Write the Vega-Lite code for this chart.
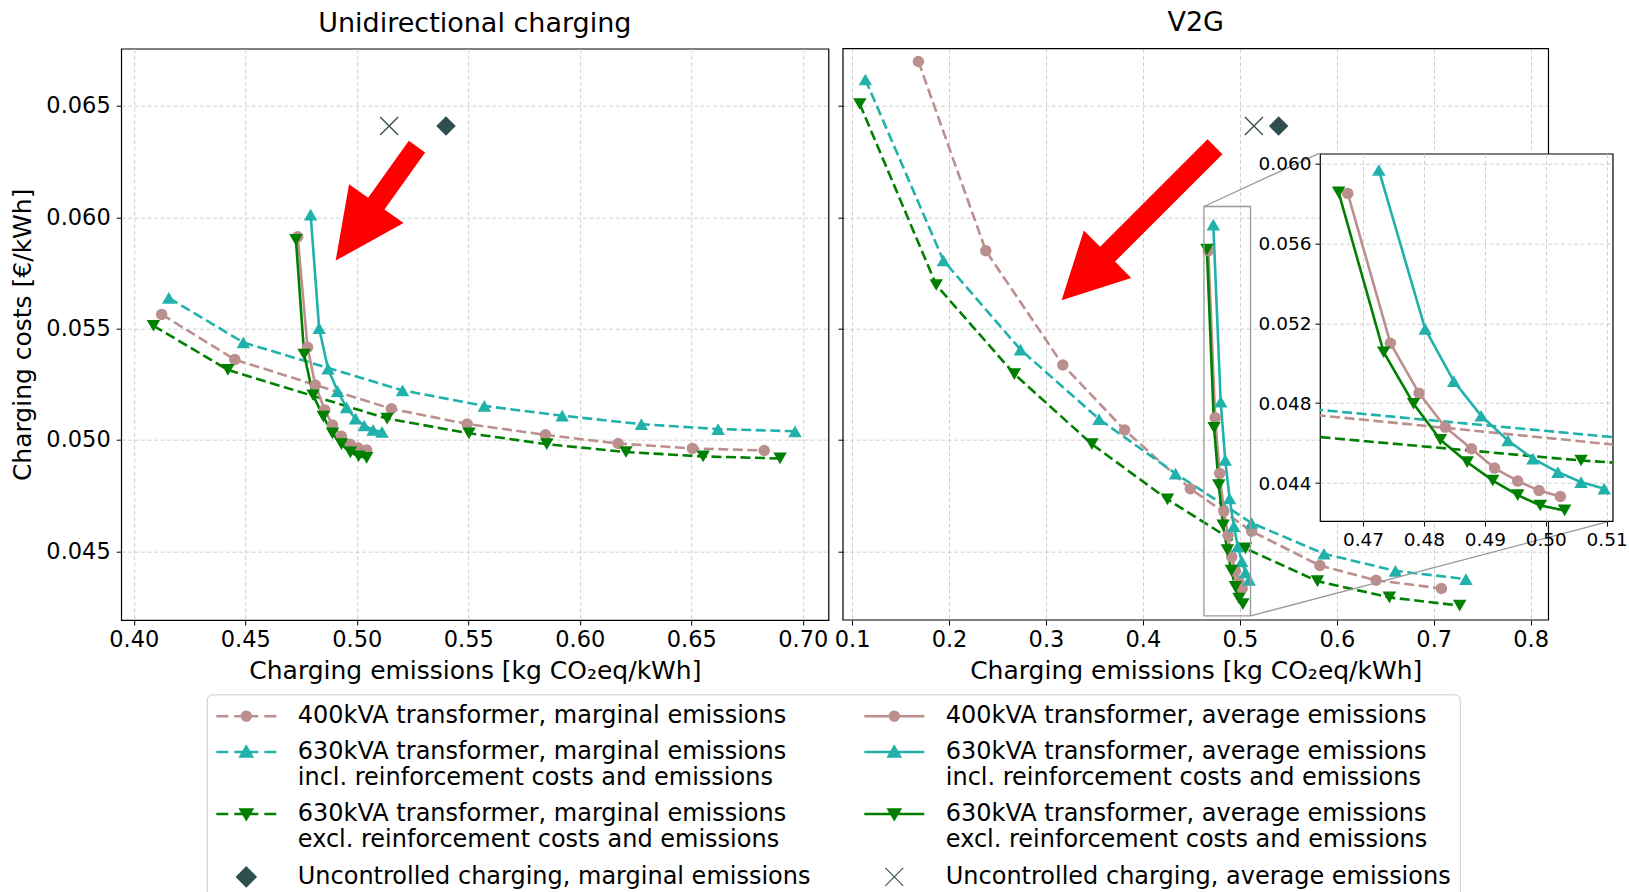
{
  "$schema": "https://vega.github.io/schema/vega-lite/v6.json",
  "padding": {"left": 9.2, "top": 8.7, "right": 5, "bottom": 0},
  "background": "white",
  "config": {
    "font": "DejaVu Sans",
    "view": {"stroke": "black", "strokeWidth": 1.2},
    "point": {"opacity": 1},
    "axis": {
      "labelFont": "DejaVu Sans", "labelFontSize": 22.5, "labelColor": "black",
      "titleFont": "DejaVu Sans", "titleFontSize": 25, "titleFontWeight": "normal", "titleColor": "black",
      "tickColor": "black", "tickSize": 5, "tickWidth": 1, "domain": false,
      "gridColor": "#d0d0d0", "gridDash": [4, 2.5], "gridWidth": 1,
      "labelFlush": false, "labelOverlap": false, "labelPadding": 5
    },
    "title": {"font": "DejaVu Sans", "fontSize": 27, "fontWeight": "normal", "color": "black", "frame": "group", "baseline": "bottom", "offset": 11}
  },
  "datasets": {
    "curves": [
      {"p":"u","s":"m400","x":0.4125,"y":0.05564},{"p":"u","s":"m400","x":0.4453,"y":0.05361},{"p":"u","s":"m400","x":0.5155,"y":0.05140},{"p":"u","s":"m400","x":0.5495,"y":0.05072},{"p":"u","s":"m400","x":0.5846,"y":0.05023},{"p":"u","s":"m400","x":0.6172,"y":0.04984},{"p":"u","s":"m400","x":0.6505,"y":0.04962},{"p":"u","s":"m400","x":0.6827,"y":0.04953},
      {"p":"u","s":"m630i","x":0.4157,"y":0.05638},{"p":"u","s":"m630i","x":0.4491,"y":0.05438},{"p":"u","s":"m630i","x":0.5205,"y":0.05223},{"p":"u","s":"m630i","x":0.5572,"y":0.05153},{"p":"u","s":"m630i","x":0.5921,"y":0.05109},{"p":"u","s":"m630i","x":0.6276,"y":0.05071},{"p":"u","s":"m630i","x":0.6620,"y":0.05049},{"p":"u","s":"m630i","x":0.6965,"y":0.05039},
      {"p":"u","s":"m630e","x":0.4088,"y":0.05513},{"p":"u","s":"m630e","x":0.4422,"y":0.05315},{"p":"u","s":"m630e","x":0.5136,"y":0.05096},{"p":"u","s":"m630e","x":0.5503,"y":0.05030},{"p":"u","s":"m630e","x":0.5852,"y":0.04981},{"p":"u","s":"m630e","x":0.6207,"y":0.04946},{"p":"u","s":"m630e","x":0.6553,"y":0.04926},{"p":"u","s":"m630e","x":0.6898,"y":0.04917},
      {"p":"u","s":"a400","x":0.4735,"y":0.05913},{"p":"u","s":"a400","x":0.4779,"y":0.05416},{"p":"u","s":"a400","x":0.4814,"y":0.05247},{"p":"u","s":"a400","x":0.4856,"y":0.05135},{"p":"u","s":"a400","x":0.4891,"y":0.05067},{"p":"u","s":"a400","x":0.4931,"y":0.05017},{"p":"u","s":"a400","x":0.4971,"y":0.04981},{"p":"u","s":"a400","x":0.5006,"y":0.04964},{"p":"u","s":"a400","x":0.5044,"y":0.04955},
      {"p":"u","s":"a630i","x":0.4793,"y":0.06012},{"p":"u","s":"a630i","x":0.4831,"y":0.05502},{"p":"u","s":"a630i","x":0.4871,"y":0.05320},{"p":"u","s":"a630i","x":0.4914,"y":0.05219},{"p":"u","s":"a630i","x":0.4954,"y":0.05146},{"p":"u","s":"a630i","x":0.4994,"y":0.05096},{"p":"u","s":"a630i","x":0.5033,"y":0.05065},{"p":"u","s":"a630i","x":0.5073,"y":0.05045},{"p":"u","s":"a630i","x":0.5113,"y":0.05036},
      {"p":"u","s":"a630e","x":0.4727,"y":0.05899},{"p":"u","s":"a630e","x":0.4764,"y":0.05384},{"p":"u","s":"a630e","x":0.4804,"y":0.05201},{"p":"u","s":"a630e","x":0.4850,"y":0.05105},{"p":"u","s":"a630e","x":0.4891,"y":0.05030},{"p":"u","s":"a630e","x":0.4931,"y":0.04981},{"p":"u","s":"a630e","x":0.4971,"y":0.04944},{"p":"u","s":"a630e","x":0.5008,"y":0.04927},{"p":"u","s":"a630e","x":0.5044,"y":0.04920},
      {"p":"v","s":"m400","x":0.1684,"y":0.06700},{"p":"v","s":"m400","x":0.2379,"y":0.05850},{"p":"v","s":"m400","x":0.3174,"y":0.05337},{"p":"v","s":"m400","x":0.3811,"y":0.05045},{"p":"v","s":"m400","x":0.4489,"y":0.04781},{"p":"v","s":"m400","x":0.5121,"y":0.04590},{"p":"v","s":"m400","x":0.5826,"y":0.04436},{"p":"v","s":"m400","x":0.6405,"y":0.04370},{"p":"v","s":"m400","x":0.7079,"y":0.04333},
      {"p":"v","s":"m630i","x":0.1137,"y":0.06619},{"p":"v","s":"m630i","x":0.1942,"y":0.05806},{"p":"v","s":"m630i","x":0.2737,"y":0.05406},{"p":"v","s":"m630i","x":0.3547,"y":0.05094},{"p":"v","s":"m630i","x":0.4337,"y":0.04849},{"p":"v","s":"m630i","x":0.5121,"y":0.04627},{"p":"v","s":"m630i","x":0.5868,"y":0.04489},{"p":"v","s":"m630i","x":0.6605,"y":0.04412},{"p":"v","s":"m630i","x":0.7332,"y":0.04375},
      {"p":"v","s":"m630e","x":0.1079,"y":0.06509},{"p":"v","s":"m630e","x":0.1868,"y":0.05696},{"p":"v","s":"m630e","x":0.2674,"y":0.05296},{"p":"v","s":"m630e","x":0.3474,"y":0.04981},{"p":"v","s":"m630e","x":0.4253,"y":0.04733},{"p":"v","s":"m630e","x":0.5058,"y":0.04513},{"p":"v","s":"m630e","x":0.5800,"y":0.04366},{"p":"v","s":"m630e","x":0.6542,"y":0.04293},{"p":"v","s":"m630e","x":0.7268,"y":0.04256},
      {"p":"v","s":"a400","x":0.4675,"y":0.0585},{"p":"v","s":"a400","x":0.4745,"y":0.0510},{"p":"v","s":"a400","x":0.4792,"y":0.0485},{"p":"v","s":"a400","x":0.4835,"y":0.0468},{"p":"v","s":"a400","x":0.4878,"y":0.04572},{"p":"v","s":"a400","x":0.4916,"y":0.04475},{"p":"v","s":"a400","x":0.4954,"y":0.0441},{"p":"v","s":"a400","x":0.4989,"y":0.04363},{"p":"v","s":"a400","x":0.5024,"y":0.04333},
      {"p":"v","s":"a630i","x":0.4726,"y":0.05967},{"p":"v","s":"a630i","x":0.4802,"y":0.05172},{"p":"v","s":"a630i","x":0.4849,"y":0.0491},{"p":"v","s":"a630i","x":0.4894,"y":0.04737},{"p":"v","s":"a630i","x":0.4938,"y":0.04613},{"p":"v","s":"a630i","x":0.4979,"y":0.04522},{"p":"v","s":"a630i","x":0.5020,"y":0.04455},{"p":"v","s":"a630i","x":0.5058,"y":0.04405},{"p":"v","s":"a630i","x":0.5096,"y":0.04372},
      {"p":"v","s":"a630e","x":0.4660,"y":0.05855},{"p":"v","s":"a630e","x":0.4734,"y":0.05055},{"p":"v","s":"a630e","x":0.4783,"y":0.04797},{"p":"v","s":"a630e","x":0.4827,"y":0.04617},{"p":"v","s":"a630e","x":0.4871,"y":0.04505},{"p":"v","s":"a630e","x":0.4913,"y":0.04413},{"p":"v","s":"a630e","x":0.4954,"y":0.0434},{"p":"v","s":"a630e","x":0.4991,"y":0.04288},{"p":"v","s":"a630e","x":0.5031,"y":0.04263}
    ],
    "unc": [
      {"kind": "marginal", "x": 0.540, "y": 0.0641},
      {"kind": "average", "x": 0.5145, "y": 0.0641}
    ],
    "arrows": [
      {"p": "u", "x": 0.50875, "y": 0.060615},
      {"p": "v", "x": 0.39525, "y": 0.059725}
    ],
    "frame": [
      {"x": 0.09061, "x2": 0.81836, "y": 0.041915, "y2": 0.067573}
    ],
    "zoombox": [
      {"x": 0.46294, "x2": 0.51099, "y": 0.042098, "y2": 0.060486}
    ],
    "conn": [
      {"x": 0.46294, "y": 0.060486, "x2": 0.58184, "y2": 0.062875},
      {"x": 0.51099, "y": 0.042098, "x2": 0.88378, "y2": 0.046376}
    ],
    "keys": [
      {"k": "m400"}
    ]
  },
  "spacing": 13.8,
  "bounds": "flush",
  "hconcat": [
    {
      "title": "Unidirectional charging",
      "width": 707.3,
      "height": 571.3,
      "encoding": {
        "x": {"field": "x", "type": "quantitative", "scale": {"domain": [0.39435, 0.71152], "nice": false, "zero": false},
              "axis": {"values": [0.4, 0.45, 0.5, 0.55, 0.6, 0.65, 0.7], "format": ".2f", "title": "Charging emissions [kg CO₂eq/kWh]", "titlePadding": 7.5, "labelPadding": 4}},
        "y": {"field": "y", "type": "quantitative", "scale": {"domain": [0.041915, 0.067573], "nice": false, "zero": false},
              "axis": {"values": [0.045, 0.05, 0.055, 0.06, 0.065], "format": ".3f", "title": "Charging costs [€/kWh]", "titlePadding": 10, "labelPadding": 6}}
      },
      "layer": [
        {"data": {"name": "curves"}, "transform": [{"filter": "datum.p=='u'"}],
         "mark": {"type": "line", "strokeWidth": 2.6},
         "encoding": {
           "color": {"field": "s", "type": "nominal", "scale": {"domain": ["m400","a400","m630i","a630i","m630e","a630e"], "range": ["#BC8F8F","#BC8F8F","#20B2AA","#20B2AA","#008000","#008000"]}, "legend": null},
           "strokeDash": {"field": "s", "type": "nominal", "scale": {"domain": ["m400","a400","m630i","a630i","m630e","a630e"], "range": [[10,4.5],[1,0],[10,4.5],[1,0],[10,4.5],[1,0]]}, "legend": null}
         }},
        {"data": {"name": "curves"}, "transform": [{"filter": "datum.p=='u' && (datum.s=='m400' || datum.s=='a400')"}],
         "mark": {"type": "point", "shape": "circle", "filled": true, "size": 132, "opacity": 1},
         "encoding": {"color": {"field": "s", "type": "nominal", "legend": null}}},
        {"data": {"name": "curves"}, "transform": [{"filter": "datum.p=='u' && (datum.s=='m630i' || datum.s=='a630i')"}],
         "mark": {"type": "point", "shape": "triangle-up", "filled": true, "size": 182, "opacity": 1},
         "encoding": {"color": {"field": "s", "type": "nominal", "legend": null}}},
        {"data": {"name": "curves"}, "transform": [{"filter": "datum.p=='u' && (datum.s=='m630e' || datum.s=='a630e')"}],
         "mark": {"type": "point", "shape": "triangle-down", "filled": true, "size": 182, "opacity": 1},
         "encoding": {"color": {"field": "s", "type": "nominal", "legend": null}}},
        {"data": {"name": "unc"}, "transform": [{"filter": "datum.kind=='marginal'"}],
         "mark": {"type": "point", "shape": "diamond", "filled": true, "size": 380, "color": "#2F4F4F", "opacity": 1}},
        {"data": {"name": "unc"}, "transform": [{"filter": "datum.kind=='average'"}],
         "mark": {"type": "point", "shape": "M-1,-1L1,1M-1,1L1,-1", "filled": false, "size": 324, "color": "#2F4F4F", "strokeWidth": 1.3, "opacity": 1}},
        {"data": {"name": "arrows"}, "transform": [{"filter": "datum.p=='u'"}],
         "mark": {"type": "point", "shape": "M-7,-1L0,-1L0,-3.35L7,0L0,3.35L0,1L-7,1Z", "filled": true, "size": 400, "color": "#FF0000", "angle": 125.5, "strokeWidth": 0, "opacity": 1}},
        {"data": {"name": "keys"}, "transform": [{"filter": "false"}],
         "mark": {"type": "point", "size": 576, "opacity": 1},
         "encoding": {
           "fill": {"field": "k", "type": "nominal",
             "scale": {"domain": ["m400","m630i","m630e","mUnc","a400","a630i","a630e","aUnc"],
                       "range": ["#BC8F8F","#20B2AA","#008000","#2F4F4F","#BC8F8F","#20B2AA","#008000","#2F4F4F"]},
             "legend": {"orient": "none", "legendX": 85.6, "legendY": 645.7, "columns": 2, "title": null,
               "symbolSize": 576, "symbolStrokeWidth": 2.5, "labelFont": "DejaVu Sans", "labelFontSize": 24, "labelColor": "black",
               "labelLimit": 1000, "labelOffset": 56, "columnPadding": 48, "rowPadding": 10, "padding": 8,
               "strokeColor": "#cccccc", "fillColor": "white", "cornerRadius": 5,
               "encode": {"labels": {"update": {"lineHeight": {"value": 26}, "dy": {"signal": "indexof(['m630i','a630i','m630e','a630e'], datum.value) >= 0 ? -13 : 0"}}}},
               "labelExpr": "datum.value=='m400'?'400kVA transformer, marginal emissions':datum.value=='a400'?'400kVA transformer, average emissions':datum.value=='m630i'?['630kVA transformer, marginal emissions','incl. reinforcement costs and emissions']:datum.value=='a630i'?['630kVA transformer, average emissions','incl. reinforcement costs and emissions']:datum.value=='m630e'?['630kVA transformer, marginal emissions','excl. reinforcement costs and emissions']:datum.value=='a630e'?['630kVA transformer, average emissions','excl. reinforcement costs and emissions']:datum.value=='mUnc'?'Uncontrolled charging, marginal emissions':'Uncontrolled charging, average emissions'"}},
           "stroke": {"field": "k", "type": "nominal",
             "scale": {"domain": ["m400","m630i","m630e","mUnc","a400","a630i","a630e","aUnc"],
                       "range": ["#BC8F8F","#20B2AA","#008000","#2F4F4F","#BC8F8F","#20B2AA","#008000","transparent"]},
             "legend": {"orient": "none", "legendX": 85.6, "legendY": 645.7, "columns": 2, "title": null,
               "symbolSize": 576, "symbolStrokeWidth": 2.5, "labelFont": "DejaVu Sans", "labelFontSize": 24, "labelColor": "black",
               "labelLimit": 1000, "labelOffset": 56, "columnPadding": 48, "rowPadding": 10, "padding": 8,
               "strokeColor": "#cccccc", "fillColor": "white", "cornerRadius": 5,
               "encode": {"labels": {"update": {"lineHeight": {"value": 26}, "dy": {"signal": "indexof(['m630i','a630i','m630e','a630e'], datum.value) >= 0 ? -13 : 0"}}}},
               "labelExpr": "datum.value=='m400'?'400kVA transformer, marginal emissions':datum.value=='a400'?'400kVA transformer, average emissions':datum.value=='m630i'?['630kVA transformer, marginal emissions','incl. reinforcement costs and emissions']:datum.value=='a630i'?['630kVA transformer, average emissions','incl. reinforcement costs and emissions']:datum.value=='m630e'?['630kVA transformer, marginal emissions','excl. reinforcement costs and emissions']:datum.value=='a630e'?['630kVA transformer, average emissions','excl. reinforcement costs and emissions']:datum.value=='mUnc'?'Uncontrolled charging, marginal emissions':'Uncontrolled charging, average emissions'"}},
           "shape": {"field": "k", "type": "nominal",
             "scale": {"domain": ["m400","m630i","m630e","mUnc","a400","a630i","a630e","aUnc"],
                       "range": [
                         "M-1,0H0M0.5,0H2.5M3,0H4M1.875,0A0.375,0.375,0,1,1,1.125,0A0.375,0.375,0,1,1,1.875,0Z",
                         "M-1,0H0M0.5,0H2.5M3,0H4M1.5,-0.425L1.975,0.375L1.025,0.375Z",
                         "M-1,0H0M0.5,0H2.5M3,0H4M1.5,0.425L1.975,-0.375L1.025,-0.375Z",
                         "M1.5,-0.75L2.25,0L1.5,0.75L0.75,0Z",
                         "M-1,0H4M1.875,0A0.375,0.375,0,1,1,1.125,0A0.375,0.375,0,1,1,1.875,0Z",
                         "M-1,0H4M1.5,-0.425L1.975,0.375L1.025,0.375Z",
                         "M-1,0H4M1.5,0.425L1.975,-0.375L1.025,-0.375Z",
                         "M0.725,-0.7125L0.7875,-0.775L2.275,0.7125L2.2125,0.775ZM0.725,0.7125L2.2125,-0.775L2.275,-0.7125L0.7875,0.775Z"
                       ]},
             "legend": {"orient": "none", "legendX": 85.6, "legendY": 645.7, "columns": 2, "title": null,
               "symbolSize": 576, "symbolStrokeWidth": 2.5, "labelFont": "DejaVu Sans", "labelFontSize": 24, "labelColor": "black",
               "labelLimit": 1000, "labelOffset": 56, "columnPadding": 48, "rowPadding": 10, "padding": 8,
               "strokeColor": "#cccccc", "fillColor": "white", "cornerRadius": 5,
               "encode": {"labels": {"update": {"lineHeight": {"value": 26}, "dy": {"signal": "indexof(['m630i','a630i','m630e','a630e'], datum.value) >= 0 ? -13 : 0"}}}},
               "labelExpr": "datum.value=='m400'?'400kVA transformer, marginal emissions':datum.value=='a400'?'400kVA transformer, average emissions':datum.value=='m630i'?['630kVA transformer, marginal emissions','incl. reinforcement costs and emissions']:datum.value=='a630i'?['630kVA transformer, average emissions','incl. reinforcement costs and emissions']:datum.value=='m630e'?['630kVA transformer, marginal emissions','excl. reinforcement costs and emissions']:datum.value=='a630e'?['630kVA transformer, average emissions','excl. reinforcement costs and emissions']:datum.value=='mUnc'?'Uncontrolled charging, marginal emissions':'Uncontrolled charging, average emissions'"}}
         }}
      ]
    },
    {
      "spacing": 0,
      "bounds": "flush",
      "hconcat": [
        {
          "title": {"text": "V2G", "dx": 114.6},
          "width": 476.2,
          "height": 571.3,
          "view": {"stroke": null},
          "encoding": {
            "x": {"field": "x", "type": "quantitative", "scale": {"domain": [0.09061, 0.81836], "range": [0, 705.5], "nice": false, "zero": false},
                  "axis": {"values": [0.1, 0.2, 0.3, 0.4, 0.5, 0.6, 0.7, 0.8], "format": ".1f", "title": "Charging emissions [kg CO₂eq/kWh]", "titlePadding": 7.5, "labelPadding": 4}},
            "y": {"field": "y", "type": "quantitative", "scale": {"domain": [0.041915, 0.067573], "nice": false, "zero": false},
                  "axis": {"values": [0.045, 0.05, 0.055, 0.06, 0.065], "labels": false, "title": null}}
          },
          "layer": [
            {"data": {"name": "frame"},
             "mark": {"type": "rect", "fill": "transparent", "stroke": "black", "strokeWidth": 1.2},
             "encoding": {"x2": {"field": "x2"}, "y2": {"field": "y2"}}},
            {"data": {"name": "curves"}, "transform": [{"filter": "datum.p=='v'"}],
             "mark": {"type": "line", "strokeWidth": 2.6},
             "encoding": {
               "color": {"field": "s", "type": "nominal", "scale": {"domain": ["m400","a400","m630i","a630i","m630e","a630e"], "range": ["#BC8F8F","#BC8F8F","#20B2AA","#20B2AA","#008000","#008000"]}, "legend": null},
               "strokeDash": {"field": "s", "type": "nominal", "scale": {"domain": ["m400","a400","m630i","a630i","m630e","a630e"], "range": [[10,4.5],[1,0],[10,4.5],[1,0],[10,4.5],[1,0]]}, "legend": null}
             }},
            {"data": {"name": "curves"}, "transform": [{"filter": "datum.p=='v' && (datum.s=='m400' || datum.s=='a400')"}],
             "mark": {"type": "point", "shape": "circle", "filled": true, "size": 132, "opacity": 1},
             "encoding": {"color": {"field": "s", "type": "nominal", "legend": null}}},
            {"data": {"name": "curves"}, "transform": [{"filter": "datum.p=='v' && (datum.s=='m630i' || datum.s=='a630i')"}],
             "mark": {"type": "point", "shape": "triangle-up", "filled": true, "size": 182, "opacity": 1},
             "encoding": {"color": {"field": "s", "type": "nominal", "legend": null}}},
            {"data": {"name": "curves"}, "transform": [{"filter": "datum.p=='v' && (datum.s=='m630e' || datum.s=='a630e')"}],
             "mark": {"type": "point", "shape": "triangle-down", "filled": true, "size": 182, "opacity": 1},
             "encoding": {"color": {"field": "s", "type": "nominal", "legend": null}}},
            {"data": {"name": "unc"}, "transform": [{"filter": "datum.kind=='marginal'"}],
             "mark": {"type": "point", "shape": "diamond", "filled": true, "size": 380, "color": "#2F4F4F", "opacity": 1}},
            {"data": {"name": "unc"}, "transform": [{"filter": "datum.kind=='average'"}],
             "mark": {"type": "point", "shape": "M-1,-1L1,1M-1,1L1,-1", "filled": false, "size": 324, "color": "#2F4F4F", "strokeWidth": 1.3, "opacity": 1}},
            {"data": {"name": "arrows"}, "transform": [{"filter": "datum.p=='v'"}],
             "mark": {"type": "point", "shape": "M-10.85,-1.05L4.35,-1.05L4.35,-3.35L10.85,0L4.35,3.35L4.35,1.05L-10.85,1.05Z", "filled": true, "size": 400, "color": "#FF0000", "angle": 135, "strokeWidth": 0, "opacity": 1}},
            {"data": {"name": "zoombox"},
             "mark": {"type": "rect", "fill": "transparent", "stroke": "#999999", "strokeWidth": 1.3},
             "encoding": {"x2": {"field": "x2"}, "y2": {"field": "y2"}}},
            {"data": {"name": "conn"},
             "mark": {"type": "rule", "color": "#999999", "strokeWidth": 1.3},
             "encoding": {"x2": {"field": "x2"}, "y2": {"field": "y2"}}}
          ]
        },
        {
          "spacing": 0,
          "bounds": "flush",
          "vconcat": [
            {"width": 292.7, "height": 104.6, "view": {"stroke": null}, "data": {"values": []}, "mark": "point"},
            {
              "width": 292.7,
              "height": 367.4,
              "view": {"fill": "white", "stroke": "black", "strokeWidth": 1.2},
              "encoding": {
                "x": {"field": "x", "type": "quantitative", "scale": {"domain": [0.46294, 0.51099], "nice": false, "zero": false},
                      "axis": {"values": [0.47, 0.48, 0.49, 0.5, 0.51], "format": ".2f", "title": null, "labelFontSize": 18.5, "labelPadding": 4}},
                "y": {"field": "y", "type": "quantitative", "scale": {"domain": [0.042098, 0.060486], "nice": false, "zero": false},
                      "axis": {"values": [0.044, 0.048, 0.052, 0.056, 0.06], "format": ".3f", "title": null, "labelFontSize": 18.5, "labelPadding": 4}}
              },
              "layer": [
                {"data": {"name": "curves"}, "transform": [{"filter": "datum.p=='v'"}],
                 "mark": {"type": "line", "strokeWidth": 2.6, "clip": true},
                 "encoding": {
                   "color": {"field": "s", "type": "nominal", "scale": {"domain": ["m400","a400","m630i","a630i","m630e","a630e"], "range": ["#BC8F8F","#BC8F8F","#20B2AA","#20B2AA","#008000","#008000"]}, "legend": null},
                   "strokeDash": {"field": "s", "type": "nominal", "scale": {"domain": ["m400","a400","m630i","a630i","m630e","a630e"], "range": [[10,4.5],[1,0],[10,4.5],[1,0],[10,4.5],[1,0]]}, "legend": null}
                 }},
                {"data": {"name": "curves"}, "transform": [{"filter": "datum.p=='v' && (datum.s=='m400' || datum.s=='a400')"}],
                 "mark": {"type": "point", "shape": "circle", "filled": true, "size": 132, "opacity": 1, "clip": true},
                 "encoding": {"color": {"field": "s", "type": "nominal", "legend": null}}},
                {"data": {"name": "curves"}, "transform": [{"filter": "datum.p=='v' && (datum.s=='m630i' || datum.s=='a630i')"}],
                 "mark": {"type": "point", "shape": "triangle-up", "filled": true, "size": 182, "opacity": 1, "clip": true},
                 "encoding": {"color": {"field": "s", "type": "nominal", "legend": null}}},
                {"data": {"name": "curves"}, "transform": [{"filter": "datum.p=='v' && (datum.s=='m630e' || datum.s=='a630e')"}],
                 "mark": {"type": "point", "shape": "triangle-down", "filled": true, "size": 182, "opacity": 1, "clip": true},
                 "encoding": {"color": {"field": "s", "type": "nominal", "legend": null}}}
              ]
            }
          ]
        }
      ]
    }
  ]
}
